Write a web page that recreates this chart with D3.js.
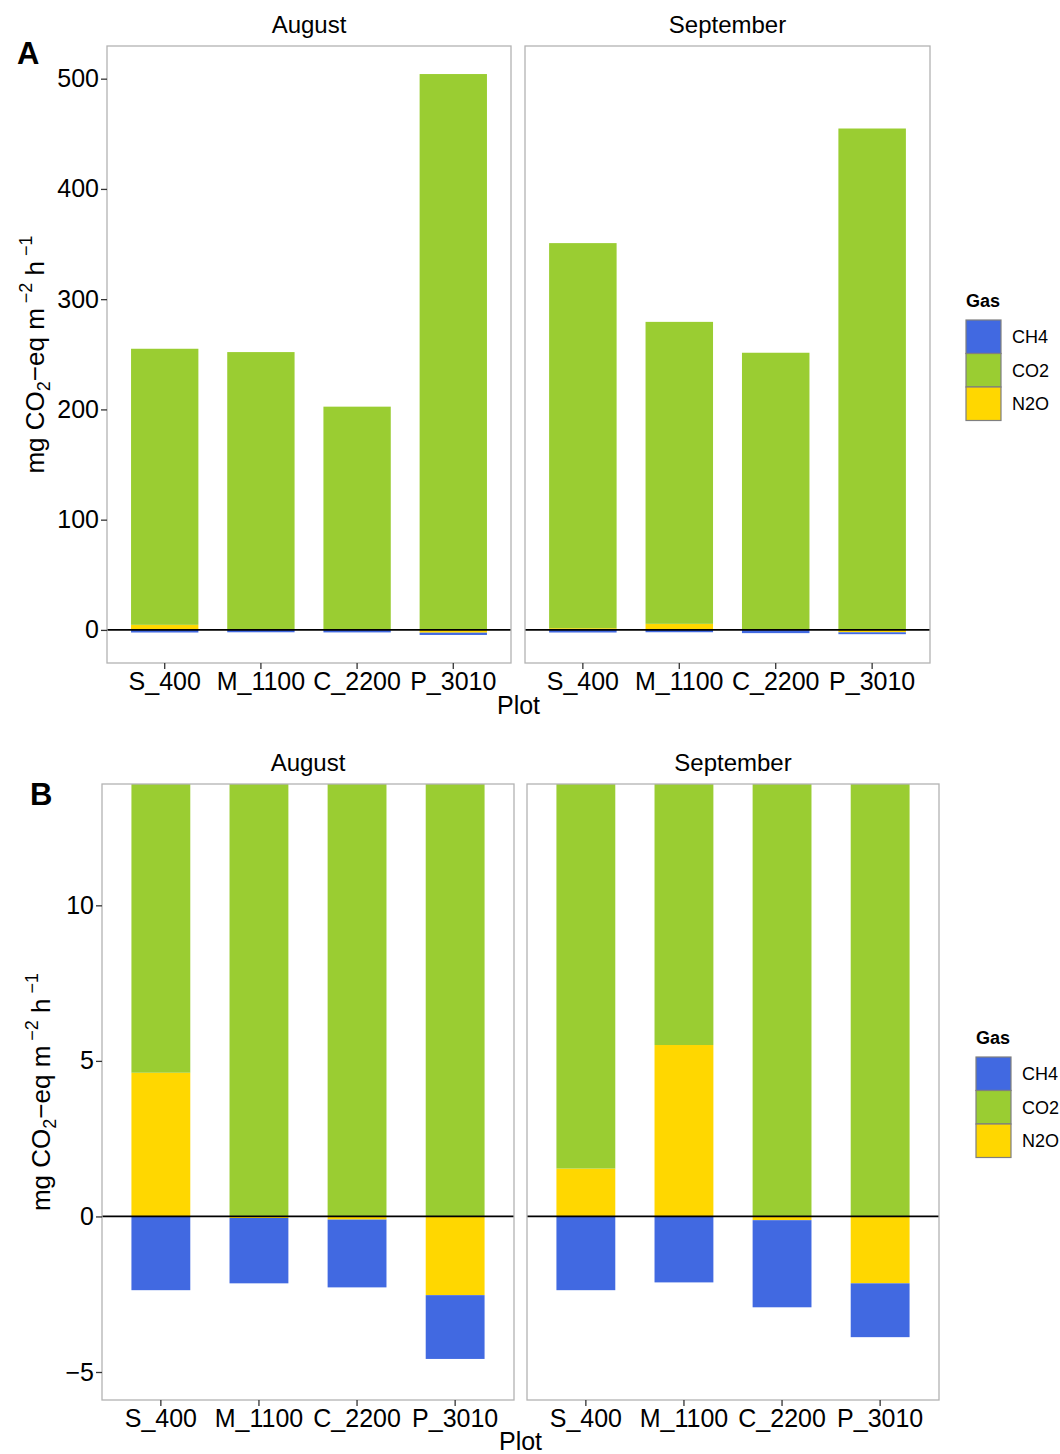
<!DOCTYPE html>
<html>
<head>
<meta charset="utf-8">
<script src="https://cdn.jsdelivr.net/npm/d3@7"></script>
<style>
  body { margin: 0; background: #fff; }
  text { font-family: "Liberation Sans", Arial, sans-serif; }
</style>
</head>
<body>
<svg id="chart" width="1060" height="1454"></svg>
<script>
// data (mg CO2-eq m-2 h-1)
const plots = ["S_400", "M_1100", "C_2200", "P_3010"];
const months = ["August", "September"];
const gases = ["CH4", "CO2", "N2O"];
const gasColours = ["#4169E1", "#9ACD32", "#FFD700"];

const co2Aug = [250.4, 252.0, 202.5, 504.2];
const co2Sep = [349.3, 273.9, 251.4, 454.8];
const n2oAug = [4.62, -0.05, -0.10, -2.53];
const n2oSep = [1.54, 5.51, -0.12, -2.15];
const ch4Aug = [-2.37, -2.10, -2.18, -2.05];
const ch4Sep = [-2.37, -2.12, -2.80, -1.73];

const ticksA = [0, 100, 200, 300, 400, 500];
const ticksB = [-5, 0, 5, 10];
const ylimB = [-5, 13];

// long table: one row per month / plot / gas
const values = {
  August:    {CH4: ch4Aug, CO2: co2Aug, N2O: n2oAug},
  September: {CH4: ch4Sep, CO2: co2Sep, N2O: n2oSep}
};
const rows = [];
months.forEach(m => plots.forEach((p, i) => gases.forEach(g => {
  rows.push({month: m, plot: p, gas: g, value: values[m][g][i]});
})));

// stack like ggplot position_stack: first level furthest from zero
function stackRows(data){
  const out = [];
  months.forEach(m => plots.forEach(p => {
    let pos = 0, neg = 0;
    gases.slice().reverse().forEach(g => {
      const r = data.find(d => d.month == m && d.plot == p && d.gas == g);
      if (r.value >= 0) { out.push({...r, lo: pos, hi: pos + r.value}); pos += r.value; }
      else { out.push({...r, lo: neg + r.value, hi: neg}); neg += r.value; }
    });
  }));
  return out;
}
const stacked = stackRows(rows);

const colour = d3.scaleOrdinal().domain(gases).range(gasColours);
const svg = d3.select("#chart");

function yTitle(g, x, y){
  const t = g.append("text")
    .attr("transform", `translate(${x},${y}) rotate(-90)`)
    .attr("text-anchor", "middle")
    .attr("font-size", "26px")
    .attr("fill", "#000");
  t.append("tspan").text("mg CO");
  t.append("tspan").attr("font-size", "18px").attr("dy", 6).text("2");
  t.append("tspan").attr("dy", -6).text("\u2212eq m");
  t.append("tspan").attr("font-size", "18px").attr("dy", -12).text(" \u22122");
  t.append("tspan").attr("dy", 12).text(" h");
  t.append("tspan").attr("font-size", "18px").attr("dy", -12).text(" \u22121");
}

function legend(g, x, y){
  g.append("text").attr("x", x).attr("y", y)
    .attr("font-size", "18px").attr("font-weight", "bold").text("Gas");
  gases.forEach((gas, i) => {
    g.append("rect")
      .attr("x", x).attr("y", y + 13 + i * 33.5)
      .attr("width", 35).attr("height", 33.5)
      .attr("fill", colour(gas))
      .attr("stroke", "#7f7f7f").attr("stroke-width", 1.2);
    g.append("text")
      .attr("x", x + 46).attr("y", y + 13 + i * 33.5 + 23)
      .attr("font-size", "18px").text(gas);
  });
}

function drawRow(cfg){
  const g = svg.append("g");
  const y = d3.scaleLinear().domain(cfg.yDomain).range([cfg.y1, cfg.y0]);

  cfg.panels.forEach((pan, k) => {
    const month = months[k];
    const x = d3.scaleBand().domain(plots).range([pan.x0, pan.x1])
      .paddingInner(cfg.padIn).paddingOuter(cfg.padOut);

    const clipId = cfg.name + "_clip" + k;
    g.append("clipPath").attr("id", clipId)
      .append("rect").attr("x", pan.x0).attr("y", cfg.y0)
      .attr("width", pan.x1 - pan.x0).attr("height", cfg.y1 - cfg.y0);

    g.append("g").attr("clip-path", `url(#${clipId})`)
      .selectAll("rect")
      .data(stacked.filter(d => d.month == month && d.hi != d.lo))
      .join("rect")
      .attr("x", d => x(d.plot))
      .attr("width", x.bandwidth())
      .attr("y", d => y(d.hi))
      .attr("height", d => y(d.lo) - y(d.hi))
      .attr("fill", d => colour(d.gas));

    // zero line
    g.append("line")
      .attr("x1", pan.x0).attr("x2", pan.x1)
      .attr("y1", y(0)).attr("y2", y(0))
      .attr("stroke", "#000").attr("stroke-width", 1.8);

    // panel border
    g.append("rect")
      .attr("x", pan.x0).attr("y", cfg.y0)
      .attr("width", pan.x1 - pan.x0).attr("height", cfg.y1 - cfg.y0)
      .attr("fill", "none").attr("stroke", "#b3b3b3").attr("stroke-width", 1.3);

    // strip title
    g.append("text")
      .attr("x", (pan.x0 + pan.x1) / 2).attr("y", cfg.stripY)
      .attr("text-anchor", "middle").attr("font-size", "24px").text(month);

    // x axis
    const xa = g.append("g").attr("transform", `translate(0,${cfg.y1})`)
      .call(d3.axisBottom(x).tickSize(6).tickPadding(3));
    xa.select(".domain").remove();
    xa.selectAll(".tick line").attr("stroke", "#333").attr("stroke-width", 1.3);
    xa.selectAll(".tick text").attr("font-size", "25px").attr("fill", "#000")
      .attr("font-family", "Liberation Sans, Arial, sans-serif");

    if (k == 0){
      const ya = g.append("g").attr("transform", `translate(${pan.x0},0)`)
        .call(d3.axisLeft(y).tickValues(cfg.yTicks).tickSize(6).tickPadding(2));
      ya.select(".domain").remove();
      ya.selectAll(".tick line").attr("stroke", "#333").attr("stroke-width", 1.3);
      ya.selectAll(".tick text").attr("font-size", "25px").attr("fill", "#000")
        .attr("font-family", "Liberation Sans, Arial, sans-serif");
    }
  });

  // x title
  g.append("text")
    .attr("x", (cfg.panels[0].x0 + cfg.panels[1].x1) / 2).attr("y", cfg.xTitleY)
    .attr("text-anchor", "middle").attr("font-size", "25px").text("Plot");

  yTitle(g, cfg.yTitleX, (cfg.y0 + cfg.y1) / 2);

  // panel tag
  g.append("text").attr("x", cfg.tagX).attr("y", cfg.tagY)
    .attr("font-size", "31px").attr("font-weight", "bold").text(cfg.name);

  legend(g, cfg.legX, cfg.legY);
}

// panel A: full range, 5% expansion
const totPos = d3.max(months.flatMap(m => plots.map(p =>
  d3.sum(stacked.filter(d => d.month == m && d.plot == p && d.value > 0), d => d.value))));
const totNeg = d3.min(months.flatMap(m => plots.map(p =>
  d3.sum(stacked.filter(d => d.month == m && d.plot == p && d.value < 0), d => d.value))));
const spanA = totPos - totNeg;
const spanB = ylimB[1] - ylimB[0];

drawRow({
  name: "A",
  panels: [{x0: 107, x1: 511}, {x0: 525, x1: 930}],
  y0: 46, y1: 663,
  yDomain: [totNeg - 0.05 * spanA, totPos + 0.05 * spanA],
  yTicks: ticksA,
  padIn: 0.3, padOut: 0.25,
  stripY: 33, xTitleY: 714,
  yTitleX: 44, tagX: 17, tagY: 64,
  legX: 966, legY: 307
});

drawRow({
  name: "B",
  panels: [{x0: 102, x1: 514}, {x0: 527, x1: 939}],
  y0: 784, y1: 1400,
  yDomain: [ylimB[0] - 0.05 * spanB, ylimB[1] + 0.05 * spanB],
  yTicks: ticksB,
  padIn: 0.4, padOut: 0.3,
  stripY: 771, xTitleY: 1450,
  yTitleX: 50, tagX: 30, tagY: 805,
  legX: 976, legY: 1044
});
</script>
</body>
</html>
